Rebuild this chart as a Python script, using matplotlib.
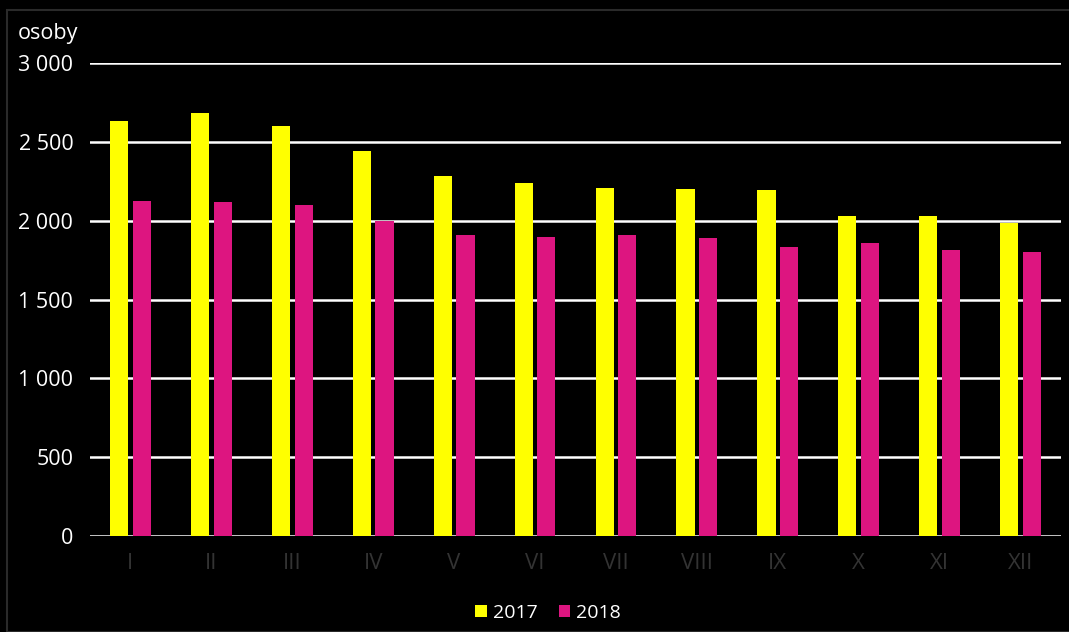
import numpy as np
import matplotlib.pyplot as plt
from matplotlib.patches import Rectangle

months = ['I', 'II', 'III', 'IV', 'V', 'VI', 'VII', 'VIII', 'IX', 'X', 'XI', 'XII']
y2017 = [2632, 2683, 2600, 2441, 2283, 2238, 2207, 2200, 2194, 2029, 2029, 1985]
y2018 = [2124, 2118, 2099, 1997, 1909, 1896, 1909, 1890, 1833, 1858, 1814, 1801]
yticks = [0, 500, 1000, 1500, 2000, 2500, 3000]
ytick_labels = ['0', '500', '1 000', '1 500', '2 000', '2 500', '3 000']

plt.rcParams['font.family'] = ['Open Sans', 'DejaVu Sans']

fig = plt.figure(figsize=(10.69, 6.32), dpi=100, facecolor='#000000')
# ramka wokol wykresu
fig.patches.append(Rectangle((7 / 1069, 0), 1.2, 1 - 10 / 632, transform=fig.transFigure,
                             facecolor='none', edgecolor='#2a2a2a', linewidth=1.5))
ax = fig.add_axes([90 / 1069, 96 / 632, 971 / 1069, 473 / 632])
ax.set_facecolor('#000000')

x = np.arange(len(months))
w = 0.225
ax.bar(x - 0.0275 - w / 2, y2017, width=w, color='#ffff00', label='2017', zorder=3)
ax.bar(x + 0.0275 + w / 2, y2018, width=w, color='#dd1580', label='2018', zorder=3)

ax.set_xlim(-0.5, len(months) - 0.5)
ax.set_ylim(0, 3000)
ax.set_yticks(yticks)
ax.set_yticklabels(ytick_labels, fontsize=15.5, color='#ffffff')
ax.set_xticks(x)
ax.set_xticklabels(months, fontsize=16, color='#333333')
ax.tick_params(axis='both', length=0)
ax.tick_params(axis='y', pad=12)
ax.tick_params(axis='x', pad=12)
for s in ax.spines.values():
    s.set_visible(False)
ax.grid(axis='y', color='#ffffff', linewidth=1.8, zorder=0)
ax.set_axisbelow(True)

fig.text(18 / 1069, 1 - 33 / 632, 'osoby', fontsize=15.5, color='#ffffff', va='center', ha='left')

leg = fig.legend(loc='center', bbox_to_anchor=(548 / 1069, 1 - 613 / 632), ncol=2, frameon=False,
                 fontsize=14, handlelength=0.6, handleheight=0.6, handletextpad=0.3, columnspacing=1.1)
for t in leg.get_texts():
    t.set_color('#ffffff')

plt.savefig('out.png', dpi=100, facecolor=fig.get_facecolor())
